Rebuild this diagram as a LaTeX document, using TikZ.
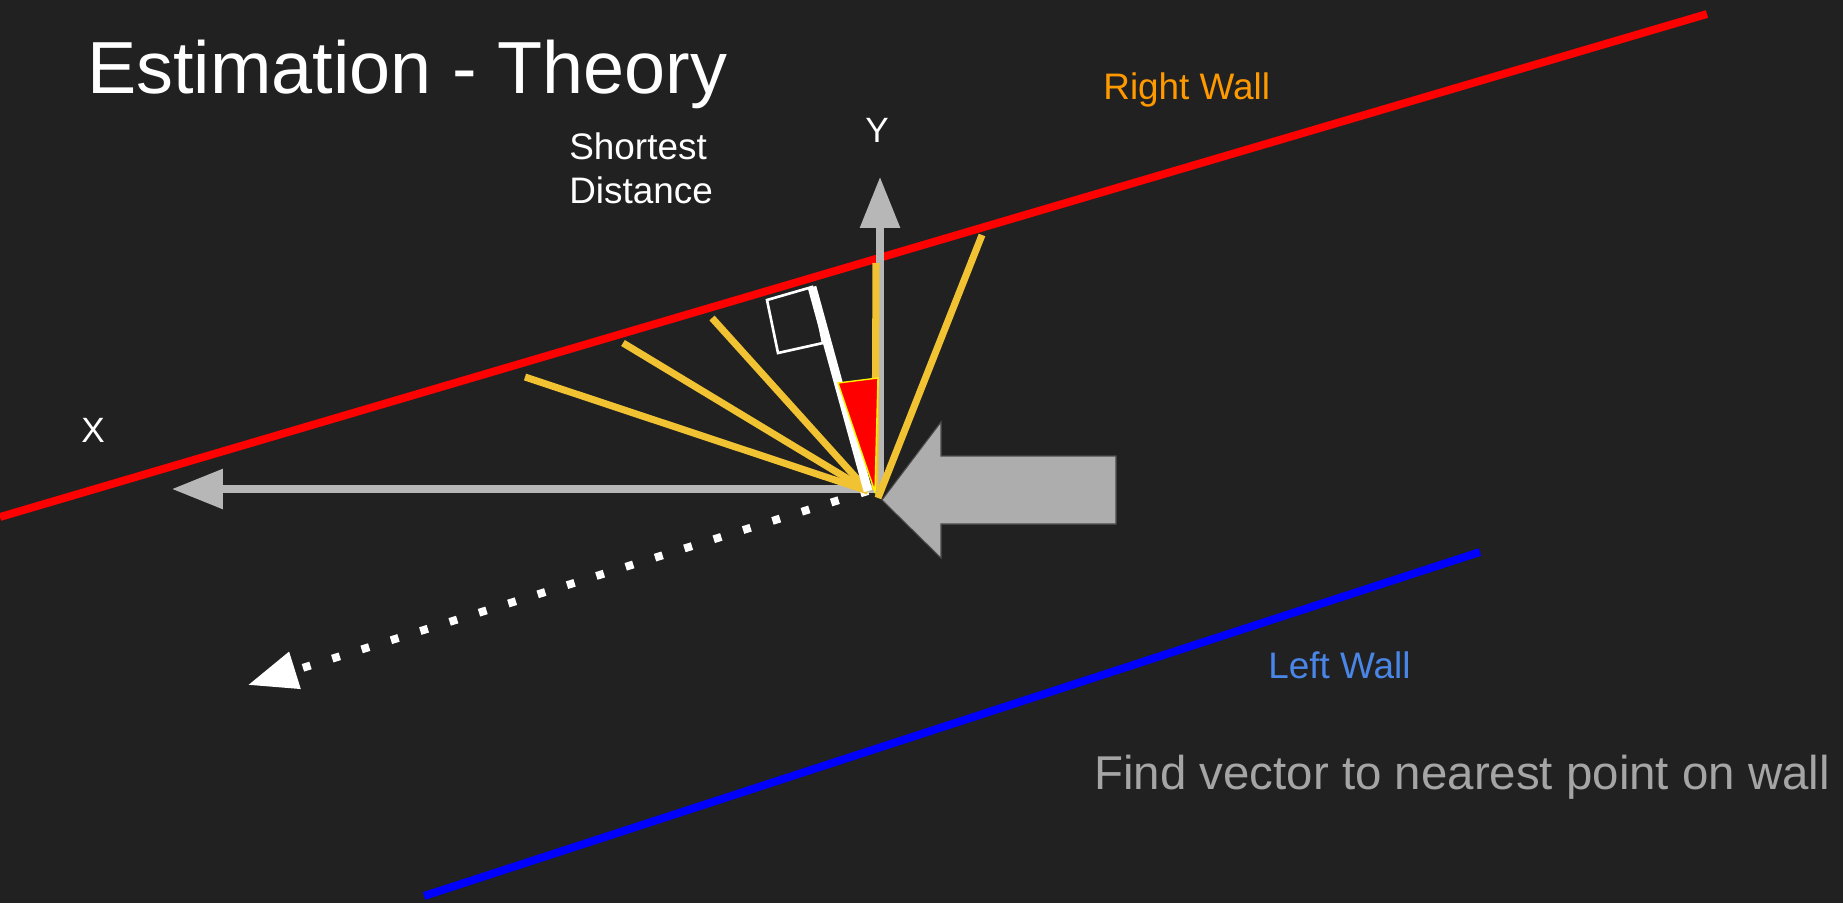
\documentclass[tikz,border=0pt]{standalone}
\usepackage{fontspec}
\setmainfont{Liberation Sans}
\usepackage{tikz}
\usetikzlibrary{arrows.meta}
\definecolor{bg}{HTML}{212121}
\definecolor{axisgray}{HTML}{B7B7B7}
\definecolor{arrowgray}{HTML}{ADADAD}
\definecolor{raygold}{HTML}{F1C232}
\definecolor{rightorange}{HTML}{FF9900}
\definecolor{leftblue}{HTML}{4A86E8}
\definecolor{notegray}{HTML}{A5A5A5}

\begin{document}
\begin{tikzpicture}[x=0.02cm, y=-0.02cm,
    txt/.style={inner sep=0pt, anchor=base west, text=white, font=\fontsize{21}{24.5}\selectfont},
    axislabel/.style={inner sep=0pt, anchor=base, text=white, font=\fontsize{20}{24}\selectfont},
    wall/.style={line width=4.5pt},
    axisarrow/.style={line width=4pt, axisgray, -{Triangle[length=29pt, width=22pt]}},
    ray/.style={line width=4pt, raygold},
    dotline/.style={line width=4.5pt, white, dash pattern=on 4.5pt off 13pt, -{Triangle[length=28pt, width=21pt]}}]

    \fill[bg] (0,0) rectangle (1843,903);
    \useasboundingbox (0,0) rectangle (1843,903);

    \coordinate (O) at (880,489);
    \coordinate (F) at (868,491);
    \coordinate (xtip) at (172,489);
    \coordinate (ytip) at (880,177);
    \coordinate (rw1) at (0,517);
    \coordinate (rw2) at (1707,14);
    \coordinate (lw1) at (424,896);
    \coordinate (lw2) at (1480,552);
    \coordinate (r1) at (525,377);
    \coordinate (r2) at (623,343);
    \coordinate (r3) at (712,318);
    \coordinate (foot) at (812,287);
    \coordinate (dtip) at (248,685);

    \draw[wall, red] (rw1) -- (rw2);
    \draw[wall, blue] (lw1) -- (lw2);

    \draw[axisarrow] (O) -- (xtip);
    \draw[axisarrow] (O) -- (ytip);

    \filldraw[fill=arrowgray, draw=black!70, line width=0.6pt] (882,500) -- (941,422) -- (941,456) -- (1116,456)
        -- (1116,524) -- (941,524) -- (941,558) -- cycle;

    \draw[dotline] (F) -- (dtip);

    \foreach \i in {1,2,3}
        \draw[ray] (F) -- (r\i);
    \draw[ray] (875,490) -- (876,263);
    \draw[ray] (878,498) -- (982,235);

    \draw[white, line width=1.5pt] (767,300) -- (foot) -- (823,343) -- (778,353) -- cycle;
    \draw[white, line width=5pt] (F) -- (foot);
    \filldraw[fill=red, draw=yellow, line width=0.8pt] (838,383) -- (878,378) -- (875,492) -- cycle;

    \node[txt, font=\fontsize{42}{50}\selectfont] (title) at (87,93) {Estimation - Theory};
    \node[txt, align=left] (short) at (569,203) {Shortest\\Distance};
    \node[axislabel] (ylab) at (877,142) {Y};
    \node[axislabel] (xlab) at (93,442) {X};
    \node[txt, text=rightorange] (rwlab) at (1103,99) {Right Wall};
    \node[txt, text=leftblue] (lwlab) at (1268,678) {Left Wall};
    \node[txt, text=notegray, font=\fontsize{27}{32}\selectfont] (note) at (1094,789) {Find vector to nearest point on wall};
\end{tikzpicture}
\end{document}
